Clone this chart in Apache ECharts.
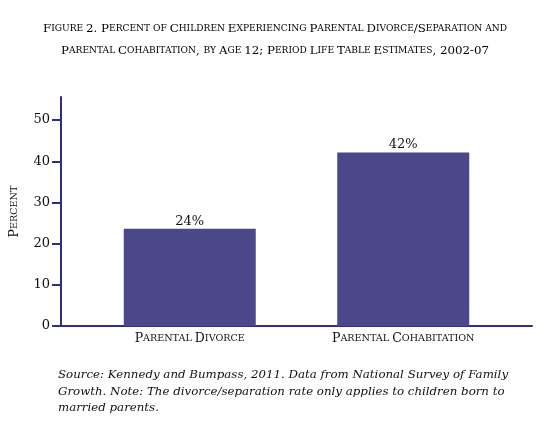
<!DOCTYPE html>
<html>
<head>
<meta charset="utf-8">
<script src="https://cdn.jsdelivr.net/npm/echarts@6/dist/echarts.min.js"></script>
<style>
  html, body { margin: 0; padding: 0; background: #fff; }
  #chart { width: 550px; height: 422px; }
</style>
</head>
<body>
<div id="chart"></div>
<script>
var categories = ['Parental Divorce', 'Parental Cohabitation'];
var percents = [23.6, 42.1];
var barLabels = ['24%', '42%'];
var yTicks = [0, 10, 20, 30, 40, 50];

var titleLines = [
    'Figure 2. Percent of Children Experiencing Parental Divorce/Separation and',
    'Parental Cohabitation, by Age 12; Period Life Table Estimates, 2002-07'
];
var noteText = 'Source: Kennedy and Bumpass, 2011. Data from National Survey of Family\n' +
    'Growth. Note: The divorce/separation rate only applies to children born to\n' +
    'married parents.';

var serif = "'Palatino Linotype', 'Book Antiqua', Palatino, 'DejaVu Serif', serif";
var navy = '#2f2e82';
var barColor = '#4a488a';
var ink = '#111';

/**
 * 小型大写字母: 大写/数字原样, 小写转成小号大写
 */
function smallCaps(text) {
    var out = '', run = '', kind = null;
    for (var i = 0; i < text.length; i++) {
        var ch = text.charAt(i);
        var k = (ch >= 'a' && ch <= 'z') ? 's' : 'b';
        if (ch === ' ' && kind) { k = kind; }
        if (kind && k !== kind) {
            out += '{' + kind + '|' + run + '}';
            run = '';
        }
        kind = k;
        run += (k === 's') ? ch.toUpperCase() : ch;
    }
    if (run) { out += '{' + kind + '|' + run + '}'; }
    return out;
}

function capsRich(big, small, color) {
    return {
        b: { fontFamily: serif, fontSize: big, fontWeight: 'normal', color: color },
        s: { fontFamily: serif, fontSize: small, fontWeight: 'normal', color: color }
    };
}

var myChart = echarts.init(document.getElementById('chart'));

var titleGraphics = titleLines.map(function (line, i) {
    return {
        type: 'text',
        x: 275,
        y: 29 + i * 22,
        style: {
            text: smallCaps(line),
            rich: capsRich(11.8, 9.1, '#000'),
            align: 'center',
            verticalAlign: 'middle'
        }
    };
});

var option = {
    backgroundColor: '#fff',
    animation: false,
    graphic: titleGraphics,
    title: {
        left: 53,
        top: 362,
        text: noteText,
        textStyle: {
            fontFamily: serif,
            fontStyle: 'italic',
            fontWeight: 'normal',
            fontSize: 11.8,
            lineHeight: 16.5,
            color: ink
        }
    },
    grid: [
        { left: 80, right: 40, top: 97, bottom: 96 },
        { left: 58, right: 18, top: 97, bottom: 96 }
    ],
    xAxis: [{
        type: 'category',
        gridIndex: 0,
        data: categories,
        axisLine: { show: false },
        axisTick: { show: false },
        axisLabel: {
            interval: 0,
            margin: 6,
            formatter: function (v) { return smallCaps(v); },
            rich: capsRich(12.5, 9.6, ink)
        }
    }, {
        type: 'category',
        gridIndex: 1,
        data: [''],
        axisLine: { show: true, lineStyle: { color: navy, width: 2 } },
        axisTick: { show: false },
        axisLabel: { show: false }
    }],
    yAxis: [{
        type: 'value',
        gridIndex: 0,
        min: 0,
        max: 55.6,
        offset: 22,
        name: smallCaps('Percent'),
        nameLocation: 'middle',
        nameGap: 40,
        nameRotate: 90,
        nameTextStyle: { rich: capsRich(12.5, 9.6, ink) },
        axisLine: { show: true, lineStyle: { color: navy, width: 2 } },
        axisTick: {
            show: true,
            length: 9,
            customValues: yTicks,
            lineStyle: { color: navy, width: 2 }
        },
        axisLabel: {
            customValues: yTicks,
            margin: 11,
            fontFamily: serif,
            fontSize: 13,
            color: ink
        },
        splitLine: { show: false }
    }, {
        type: 'value',
        gridIndex: 1,
        min: 0,
        max: 1,
        show: false
    }],
    series: [{
        type: 'bar',
        xAxisIndex: 0,
        yAxisIndex: 0,
        data: percents,
        barWidth: 132,
        itemStyle: { color: barColor },
        label: {
            show: true,
            position: 'top',
            distance: 1,
            fontFamily: serif,
            fontSize: 13,
            color: ink,
            formatter: function (p) { return barLabels[p.dataIndex]; }
        }
    }]
};

myChart.setOption(option);
</script>
</body>
</html>
